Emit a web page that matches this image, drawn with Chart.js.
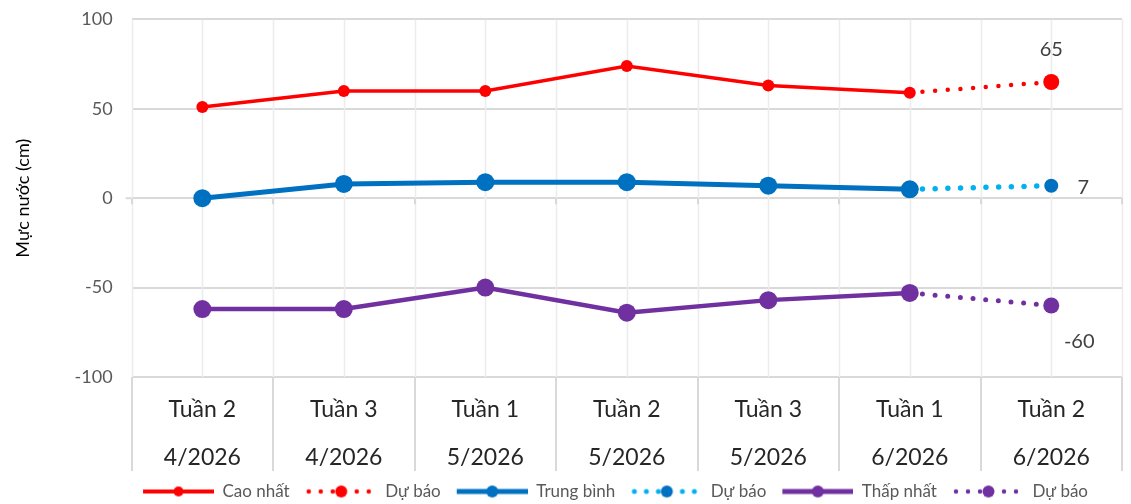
<!DOCTYPE html>
<html>
<head>
<meta charset="utf-8">
<script src="https://cdn.jsdelivr.net/npm/chart.js@4/dist/chart.umd.min.js"></script>
<style>
  html, body { margin: 0; padding: 0; background: #fff; }
  #wrap { width: 1131px; height: 504px; }
</style>
</head>
<body>
<div id="wrap"><canvas id="mucNuocChart"></canvas></div>
<script>
// Mực nước theo tuần: cao nhất / trung bình / thấp nhất + dự báo
const weeks = [
    ['Tuần 2', '4/2026'], ['Tuần 3', '4/2026'], ['Tuần 1', '5/2026'],
    ['Tuần 2', '5/2026'], ['Tuần 3', '5/2026'], ['Tuần 1', '6/2026'],
    ['Tuần 2', '6/2026']
];
const caoNhat        = [51, 60, 60, 74, 63, 59, null];
const caoNhatDuBao   = [null, null, null, null, null, 59, 65];
const trungBinh      = [0, 8, 9, 9, 7, 5, null];
const trungBinhDuBao = [null, null, null, null, null, 5, 7];
const thapNhat       = [-62, -62, -50, -64, -57, -53, null];
const thapNhatDuBao  = [null, null, null, null, null, -53, -60];
const yTicks = [-100, -50, 0, 50, 100];

const FONT = 'Lato, "Open Sans", sans-serif';
const RED = '#FF0000', BLUE = '#0070C0', LIGHTBLUE = '#00B0F0', PURPLE = '#7030A0';

// legend symbols: line + marker, like the Excel legend
function makeIcon(lineColor, markColor, solid, lw, r) {
    const c = document.createElement('canvas');
    c.width = 87; c.height = 20;
    const g = c.getContext('2d');
    const x0 = 16, x1 = 87, cy = 10, cx = (x0 + x1) / 2;
    g.fillStyle = lineColor;
    if (solid) {
        g.strokeStyle = lineColor;
        g.lineWidth = lw;
        g.beginPath(); g.moveTo(x0, cy); g.lineTo(x1, cy); g.stroke();
    } else {
        for (let x = x0 + 3; x <= x1 - 2; x += 12) {
            if (Math.abs(x - cx) < 8) continue;
            g.beginPath(); g.arc(x, cy, lw / 2, 0, Math.PI * 2); g.fill();
        }
    }
    g.fillStyle = markColor;
    g.beginPath(); g.arc(cx, cy, r, 0, Math.PI * 2); g.fill();
    return c;
}
const icons = [
    makeIcon(RED, RED, true, 4, 5),
    makeIcon(RED, RED, false, 4.5, 6),
    makeIcon(BLUE, BLUE, true, 5, 6),
    makeIcon(LIGHTBLUE, BLUE, false, 5, 6),
    makeIcon(PURPLE, PURPLE, true, 5, 6),
    makeIcon(PURPLE, PURPLE, false, 4.5, 6)
];

const lastOnly = (r) => (ctx) => ctx.dataIndex === weeks.length - 1 ? r : 0;

// vertical grid lines at category centres and boundaries, boundary ticks into label area
const gridPlugin = {
    id: 'excelGrid',
    afterLayout(chart) {
        // the Excel legend sits a bit right of centre
        chart.legend.left += 36;
        chart.legend.right += 36;
    },
    beforeDatasetsDraw(chart) {
        const { ctx, chartArea: a, scales: { y } } = chart;
        const n = weeks.length;
        const step = (a.right - a.left) / n;
        ctx.save();
        ctx.lineWidth = 1.5;
        ctx.strokeStyle = '#ececec';
        for (let i = 0; i <= 2 * n; i++) {
            const px = Math.round(a.left + i * step / 2) + 0.5;
            ctx.beginPath(); ctx.moveTo(px, a.top); ctx.lineTo(px, a.bottom); ctx.stroke();
        }
        ctx.strokeStyle = '#d9d9d9';
        ctx.lineWidth = 2;
        const y0 = y.getPixelForValue(0);
        for (let i = 0; i <= n; i++) {
            const px = Math.round(a.left + i * step);
            ctx.beginPath(); ctx.moveTo(px, a.bottom); ctx.lineTo(px, a.bottom + 94); ctx.stroke();
            ctx.beginPath(); ctx.moveTo(px, y0); ctx.lineTo(px, y0 + 6); ctx.stroke();
        }
        ctx.beginPath(); ctx.moveTo(a.left - 6, y0); ctx.lineTo(a.left, y0); ctx.stroke();
        ctx.restore();
    }
};

// value labels on the forecast points
const labelPlugin = {
    id: 'forecastLabels',
    afterDatasetsDraw(chart) {
        const { ctx } = chart;
        const spots = [
            { ds: 1, dx: 0, dy: -32 },
            { ds: 3, dx: 32, dy: 2 },
            { ds: 5, dx: 28, dy: 36 }
        ];
        ctx.save();
        ctx.font = '20px ' + FONT;
        ctx.fillStyle = '#404040';
        ctx.textAlign = 'center';
        ctx.textBaseline = 'middle';
        spots.forEach(s => {
            const idx = weeks.length - 1;
            const pt = chart.getDatasetMeta(s.ds).data[idx];
            const v = chart.data.datasets[s.ds].data[idx];
            ctx.fillText(String(v), pt.x + s.dx, pt.y + s.dy);
        });
        ctx.restore();
    }
};

const ctx = document.getElementById('mucNuocChart').getContext('2d');
const mucNuocChart = new Chart(ctx, {
    type: 'line',
    data: {
        labels: weeks,
        datasets: [
            { label: 'Cao nhất', data: caoNhat, borderColor: RED, backgroundColor: RED,
              borderWidth: 3.5, pointRadius: 6, pointBorderWidth: 0 },
            { label: 'Dự báo', data: caoNhatDuBao, borderColor: RED, backgroundColor: RED,
              borderWidth: 4.5, borderDash: [0, 12.7], borderCapStyle: 'round',
              pointRadius: lastOnly(8), pointBorderWidth: 0 },
            { label: 'Trung bình', data: trungBinh, borderColor: BLUE, backgroundColor: BLUE,
              borderWidth: 5, pointRadius: 9, pointBorderWidth: 0 },
            { label: 'Dự báo', data: trungBinhDuBao, borderColor: LIGHTBLUE, backgroundColor: BLUE,
              borderWidth: 5.5, borderDash: [0, 12.7], borderCapStyle: 'round',
              pointRadius: lastOnly(7), pointBorderWidth: 0 },
            { label: 'Thấp nhất', data: thapNhat, borderColor: PURPLE, backgroundColor: PURPLE,
              borderWidth: 4.5, pointRadius: 9, pointBorderWidth: 0 },
            { label: 'Dự báo', data: thapNhatDuBao, borderColor: PURPLE, backgroundColor: PURPLE,
              borderWidth: 5, borderDash: [0, 12.7], borderCapStyle: 'round',
              pointRadius: lastOnly(8), pointBorderWidth: 0 }
        ]
    },
    options: {
        responsive: true,
        maintainAspectRatio: false,
        animation: false,
        layout: { padding: { top: 0, left: 12, right: 0, bottom: -6 } },
        plugins: {
            tooltip: { enabled: false },
            legend: {
                position: 'bottom',
                labels: {
                    usePointStyle: true,
                    pointStyleWidth: 87,
                    padding: 0,
                    color: '#595959',
                    font: { family: FONT, size: 17 },
                    generateLabels: (chart) => chart.data.datasets.map((ds, i) => ({
                        text: ds.label,
                        pointStyle: icons[i],
                        datasetIndex: i,
                        fontColor: '#595959',
                        fillStyle: 'transparent',
                        strokeStyle: 'transparent',
                        lineWidth: 0,
                        hidden: false
                    }))
                }
            }
        },
        scales: {
            x: {
                offset: true,
                grid: { display: false },
                border: { display: false },
                ticks: {
                    padding: 1,
                    color: '#262626',
                    font: { family: FONT, size: 23, lineHeight: 48 / 23 }
                }
            },
            y: {
                min: -100,
                max: 100,
                afterBuildTicks: (axis) => { axis.ticks = yTicks.map(v => ({ value: v })); },
                grid: { color: '#d9d9d9', lineWidth: 2, drawTicks: false },
                border: { display: false },
                ticks: {
                    padding: 19,
                    color: '#595959',
                    // tiny line height so the top label does not push the plot down
                    font: { family: FONT, size: 18, lineHeight: 0.05 }
                },
                title: {
                    display: true,
                    text: 'Mực nước (cm)',
                    color: '#000000',
                    font: { family: FONT, size: 18 },
                    padding: { top: 0, bottom: 22 }
                }
            }
        }
    },
    plugins: [gridPlugin, labelPlugin]
});
</script>
</body>
</html>
